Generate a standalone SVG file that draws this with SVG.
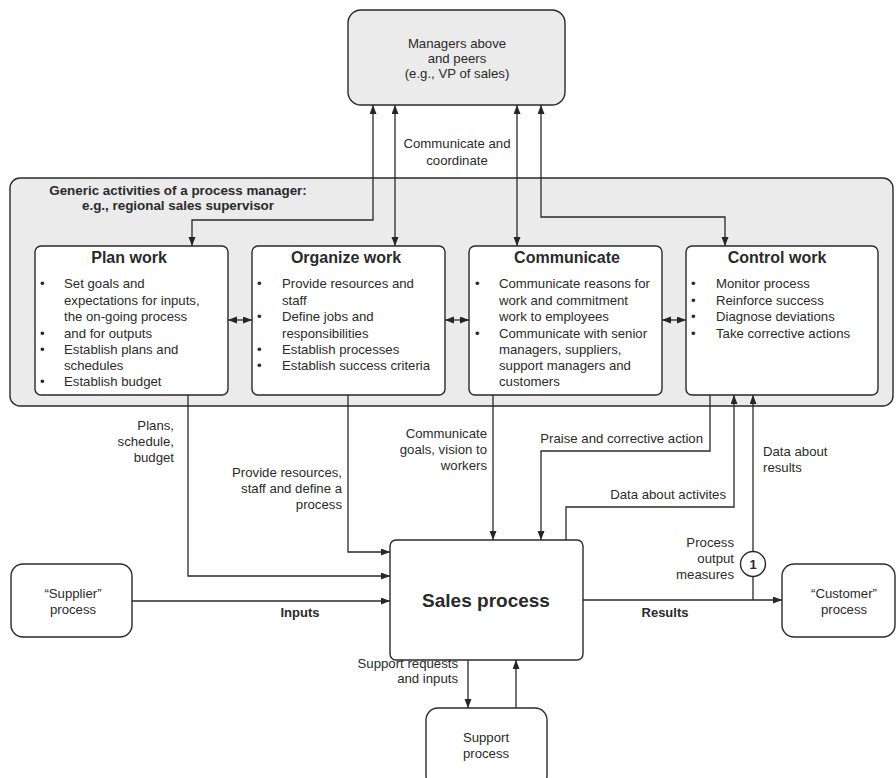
<svg xmlns="http://www.w3.org/2000/svg" width="896" height="778" viewBox="0 0 896 778">
  <defs>
    <marker id="arrow" markerUnits="userSpaceOnUse" markerWidth="10" markerHeight="8" refX="9" refY="3.5" orient="auto-start-reverse">
      <path d="M0,0 L9,3.5 L0,7 z" fill="#262626"/>
    </marker>
    <style>
      text { font-family: "Liberation Sans", Arial, sans-serif; fill: #2a2a2a; font-size: 13.2px; }
      .b { font-weight: bold; font-size: 13.4px; }
      .title { font-weight: bold; font-size: 16px; text-anchor: middle; }
      .mid { text-anchor: middle; }
      .end { text-anchor: end; }
      .grey { fill: #ebebeb; stroke: #2a2a2a; stroke-width: 1.4; }
      .box { fill: #ffffff; stroke: #2a2a2a; stroke-width: 1.4; }
      .wire { fill: none; stroke: #2a2a2a; stroke-width: 1.3; }
      .ah { marker-end: url(#arrow); }
      .ah2 { marker-start: url(#arrow); marker-end: url(#arrow); }
    </style>
  </defs>

  <!-- Managers above -->
  <g id="managers">
    <rect class="grey" x="348" y="10" width="217" height="95" rx="13"/>
    <text class="mid" x="457" y="48">Managers above</text>
    <text class="mid" x="457" y="63">and peers</text>
    <text class="mid" x="457" y="78">(e.g., VP of sales)</text>
  </g>

  <!-- Container for the process manager activities -->
  <g id="process-manager">
    <rect class="grey" x="10" y="178" width="883" height="228" rx="10"/>
    <text class="b mid" x="178" y="195">Generic activities of a process manager:</text>
    <text class="b mid" x="178" y="210">e.g., regional sales supervisor</text>
  </g>

  <g id="plan-work">
    <rect class="box" x="35" y="246" width="193" height="149" rx="6"/>
    <text class="title" x="129" y="263">Plan work</text>
    <text x="40" y="288">•</text>
    <text x="64" y="288">Set goals and</text>
    <text x="64" y="305">expectations for inputs,</text>
    <text x="64" y="321">the on-going process</text>
    <text x="40" y="338">•</text>
    <text x="64" y="338">and for outputs</text>
    <text x="40" y="354">•</text>
    <text x="64" y="354">Establish plans and</text>
    <text x="64" y="370">schedules</text>
    <text x="40" y="386">•</text>
    <text x="64" y="386">Establish budget</text>
  </g>

  <g id="organize-work">
    <rect class="box" x="252" y="246" width="193" height="149" rx="6"/>
    <text class="title" x="346" y="263">Organize work</text>
    <text x="257" y="288">•</text>
    <text x="282" y="288">Provide resources and</text>
    <text x="282" y="305">staff</text>
    <text x="257" y="321">•</text>
    <text x="282" y="321">Define jobs and</text>
    <text x="282" y="338">responsibilities</text>
    <text x="257" y="354">•</text>
    <text x="282" y="354">Establish processes</text>
    <text x="257" y="370">•</text>
    <text x="282" y="370">Establish success criteria</text>
  </g>

  <g id="communicate">
    <rect class="box" x="469" y="246" width="193" height="149" rx="6"/>
    <text class="title" x="567" y="263">Communicate</text>
    <text x="475" y="288">•</text>
    <text x="499" y="288">Communicate reasons for</text>
    <text x="499" y="305">work and commitment</text>
    <text x="499" y="321">work to employees</text>
    <text x="475" y="338">•</text>
    <text x="499" y="338">Communicate with senior</text>
    <text x="499" y="354">managers, suppliers,</text>
    <text x="499" y="370">support managers and</text>
    <text x="499" y="386">customers</text>
  </g>

  <g id="control-work">
    <rect class="box" x="686" y="246" width="192" height="149" rx="6"/>
    <text class="title" x="777" y="263">Control work</text>
    <text x="691" y="288">•</text>
    <text x="716" y="288">Monitor process</text>
    <text x="691" y="305">•</text>
    <text x="716" y="305">Reinforce success</text>
    <text x="691" y="321">•</text>
    <text x="716" y="321">Diagnose deviations</text>
    <text x="691" y="338">•</text>
    <text x="716" y="338">Take corrective actions</text>
  </g>

  <g id="sales-process">
    <rect class="box" x="390" y="540" width="193" height="120" rx="6" stroke-width="2"/>
    <text class="b mid" x="486" y="607" style="font-size:19px">Sales process</text>
  </g>

  <g id="supplier-process">
    <rect class="box" x="11" y="564" width="121" height="73" rx="12"/>
    <text class="mid" x="73" y="598">“Supplier”</text>
    <text class="mid" x="73" y="614">process</text>
  </g>

  <g id="customer-process">
    <rect class="box" x="782" y="564" width="113" height="73" rx="12"/>
    <text class="mid" x="844" y="598">“Customer”</text>
    <text class="mid" x="844" y="614">process</text>
  </g>

  <g id="support-process">
    <rect class="box" x="426" y="708" width="121" height="80" rx="12"/>
    <text class="mid" x="486" y="742">Support</text>
    <text class="mid" x="486" y="758">process</text>
  </g>

  <g id="measure-point">
    <circle cx="753" cy="564" r="12.5" fill="#ffffff" stroke="#2a2a2a" stroke-width="1.4"/>
    <text class="b mid" x="753" y="569" style="font-size:13px">1</text>
  </g>

  <!-- Connectors -->
  <g id="connectors">
    <!-- links with managers above -->
    <path class="wire ah2" d="M373,105 V220 H192 V246"/>
    <path class="wire ah2" d="M395,105 V246"/>
    <path class="wire ah2" d="M517,105 V246"/>
    <path class="wire ah2" d="M541,105 V217 H725 V246"/>

    <!-- links between activities -->
    <path class="wire ah2" d="M228,320 H252"/>
    <path class="wire ah2" d="M445,320 H469"/>
    <path class="wire ah2" d="M662,320 H686"/>

    <!-- direction into the sales process -->
    <path class="wire ah" d="M188,395 V576 H390"/>
    <path class="wire ah" d="M348,395 V552 H390"/>
    <path class="wire ah" d="M493,395 V540"/>
    <path class="wire ah" d="M710,395 V451 H541 V540"/>

    <!-- feedback to control work -->
    <path class="wire ah" d="M566,540 V507 H734 V395"/>
    <path class="wire" d="M753,600 V576.5"/>
    <path class="wire ah" d="M753,551.5 V395"/>

    <!-- flow through the sales process -->
    <path class="wire ah" d="M132,601 H390"/>
    <path class="wire ah" d="M583,600 H782"/>
    <path class="wire ah" d="M468,660 V708"/>
    <path class="wire ah" d="M516,708 V660"/>
  </g>

  <!-- Connector labels -->
  <g id="labels">
    <text class="mid" x="457" y="148">Communicate and</text>
    <text class="mid" x="457" y="165">coordinate</text>

    <text class="end" x="174" y="430">Plans,</text>
    <text class="end" x="174" y="446">schedule,</text>
    <text class="end" x="174" y="462">budget</text>

    <text class="end" x="342" y="477">Provide resources,</text>
    <text class="end" x="342" y="493">staff and define a</text>
    <text class="end" x="342" y="509">process</text>

    <text class="end" x="487" y="438">Communicate</text>
    <text class="end" x="487" y="454">goals, vision to</text>
    <text class="end" x="487" y="470">workers</text>

    <text class="end" x="703" y="443">Praise and corrective action</text>
    <text class="end" x="726" y="499">Data about activites</text>

    <text x="763" y="456">Data about</text>
    <text x="763" y="472">results</text>

    <text class="end" x="734" y="547">Process</text>
    <text class="end" x="734" y="563">output</text>
    <text class="end" x="734" y="579">measures</text>

    <text class="b mid" x="300" y="617" style="font-size:13px">Inputs</text>
    <text class="b mid" x="665" y="617" style="font-size:13px">Results</text>

    <text class="end" x="458" y="668">Support requests</text>
    <text class="end" x="458" y="683">and inputs</text>
  </g>
</svg>
